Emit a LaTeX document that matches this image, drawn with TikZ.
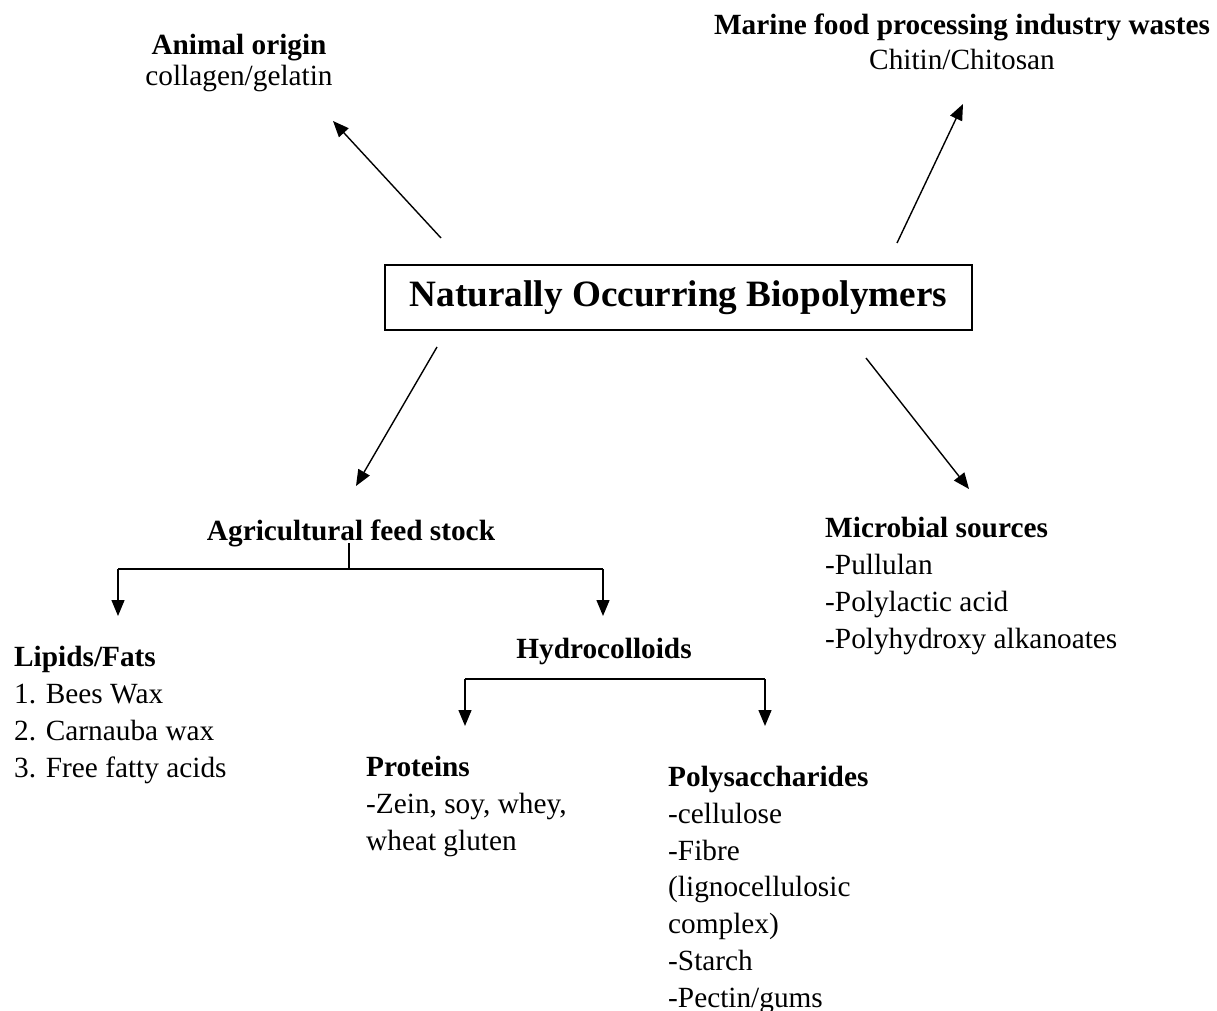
\documentclass[tikz,border=0pt]{standalone}
\usepackage{fontspec}
\setmainfont{Liberation Serif}
\usetikzlibrary{arrows.meta}
\usetikzlibrary{calc}
\tikzstyle{line} = [draw, line width=1.4pt, -{Triangle[length=16pt,width=13pt]}]
\tikzstyle{branch} = [draw, line width=1.4pt]
\tikzstyle{txt} = [inner sep=0pt, anchor=base west, align=left, font=\fontsize{29.3}{36.7}\selectfont]
\tikzstyle{head} = [inner sep=0pt, anchor=base, align=center]

\begin{document}
\begin{tikzpicture}[x=1pt,y=-1pt]
\useasboundingbox (0,0) rectangle (1217,1011);
 \node [draw, line width=2.2pt, minimum width=587pt, minimum height=65pt, inner sep=0pt,
        font=\fontsize{37.2}{44}\selectfont\bfseries] (NB) at (678.5,297.5) {Naturally Occurring Biopolymers};
 % text groups, placed at the baseline of their last line
 \node [head, font=\fontsize{29.3}{31}\selectfont] (AO) at (239,86) {\textbf{Animal origin}\\collagen/gelatin};
 \node [head, font=\fontsize{29.3}{35}\selectfont] (MF) at (962,70) {\textbf{Marine food processing industry wastes}\\Chitin/Chitosan};
 \node [head, font=\fontsize{29.3}{36}\selectfont\bfseries] (AF) at (351,540) {Agricultural feed stock};
 \node [txt] (MS) at (825,648) {\textbf{Microbial sources}\\-Pullulan\\-Polylactic acid\\-Polyhydroxy alkanoates};
 \node [txt] (LF) at (14,777) {\textbf{Lipids/Fats}\\1. Bees Wax\\2. Carnauba wax\\3. Free fatty acids};
 \node [head, font=\fontsize{29.3}{36}\selectfont\bfseries] (HC) at (604,658) {Hydrocolloids};
 \node [txt] (PR) at (366,850) {\textbf{Proteins}\\-Zein, soy, whey,\\wheat gluten};
 \node [txt] (PS) at (668,1007) {\textbf{Polysaccharides}\\-cellulose\\-Fibre\\(lignocellulosic\\complex)\\-Starch\\-Pectin/gums};
 % arrows out of the box
 \coordinate (AOtail) at (441,238);
 \coordinate (AOtip) at (333,121);
 \coordinate (MFtail) at (897,243);
 \coordinate (MFtip) at (963,104);
 \coordinate (AFtail) at (437,347);
 \coordinate (AFtip) at (356,486);
 \coordinate (MStail) at (866,358);
 \coordinate (MStip) at (969,489);
 \path [line] (AOtail) -- (AOtip);
 \path [line] (MFtail) -- (MFtip);
 \path [line] (AFtail) -- (AFtip);
 \path [line] (MStail) -- (MStip);
 % branches
 \coordinate (AFjoin) at (349,569);
 \coordinate (AFl) at (118,569);
 \coordinate (AFr) at (603,569);
 \path [branch] ($(AF.base)+(-2,3)$) -- (AFjoin);
 \path [branch] (AFl) -- (AFr);
 \path [line] (AFl) -- ++(0,47);
 \path [line] (AFr) -- ++(0,47);
 \coordinate (HCl) at (465,679);
 \coordinate (HCr) at (765,679);
 \path [branch] (HCl) -- (HCr);
 \path [line] (HCl) -- ++(0,47);
 \path [line] (HCr) -- ++(0,47);
\end{tikzpicture}
\end{document}
